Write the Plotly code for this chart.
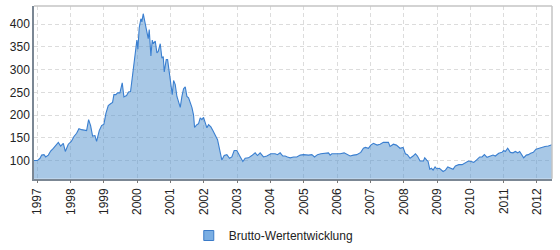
import plotly.graph_objects as go
import pandas as pd

# decimal-year positions and values
years = [
    1996.90, 1997.00, 1997.08, 1997.13, 1997.20, 1997.25, 1997.33, 1997.40, 1997.48, 1997.58,
    1997.63, 1997.70, 1997.78, 1997.84, 1997.93, 1998.02, 1998.10, 1998.18, 1998.25, 1998.33,
    1998.43, 1998.48, 1998.54, 1998.60, 1998.66, 1998.73, 1998.78, 1998.86, 1998.93, 1999.00,
    1999.06, 1999.13, 1999.20, 1999.26, 1999.30, 1999.36, 1999.41, 1999.48, 1999.55, 1999.60,
    1999.68, 1999.74, 1999.80, 1999.88, 1999.93, 1999.99, 2000.02, 2000.06, 2000.11, 2000.14,
    2000.18, 2000.24, 2000.29, 2000.33, 2000.36, 2000.41, 2000.45, 2000.48, 2000.54, 2000.59,
    2000.63, 2000.69, 2000.74, 2000.78, 2000.81, 2000.87, 2000.91, 2000.97, 2001.01, 2001.05,
    2001.09, 2001.14, 2001.19, 2001.24, 2001.29, 2001.34, 2001.39, 2001.44, 2001.49, 2001.54,
    2001.59, 2001.64, 2001.69, 2001.72, 2001.79, 2001.84, 2001.89, 2001.94, 2001.99, 2002.04,
    2002.09, 2002.14, 2002.21, 2002.27, 2002.34, 2002.41, 2002.47, 2002.54, 2002.61, 2002.69,
    2002.77, 2002.84, 2002.91, 2002.99, 2003.07, 2003.17, 2003.24, 2003.34, 2003.44, 2003.54,
    2003.61, 2003.69, 2003.79, 2003.89, 2004.01, 2004.14, 2004.21, 2004.29, 2004.37, 2004.44,
    2004.51, 2004.59, 2004.69, 2004.79, 2004.89, 2004.99, 2005.14, 2005.24, 2005.32, 2005.41,
    2005.51, 2005.64, 2005.74, 2005.79, 2005.84, 2005.94, 2006.00, 2006.09, 2006.21, 2006.31,
    2006.39, 2006.49, 2006.59, 2006.71, 2006.79, 2006.85, 2006.94, 2007.01, 2007.09, 2007.20,
    2007.29, 2007.39, 2007.54, 2007.59, 2007.69, 2007.78, 2007.84, 2007.89, 2007.98, 2008.05,
    2008.11, 2008.19, 2008.28, 2008.35, 2008.41, 2008.49, 2008.59, 2008.63, 2008.69, 2008.73,
    2008.78, 2008.83, 2008.88, 2008.94, 2008.99, 2009.07, 2009.18, 2009.25, 2009.32, 2009.40,
    2009.48, 2009.55, 2009.65, 2009.75, 2009.85, 2009.94, 2010.02, 2010.10, 2010.18, 2010.28,
    2010.35, 2010.42, 2010.50, 2010.60, 2010.68, 2010.75, 2010.85, 2010.95, 2011.00, 2011.05,
    2011.12, 2011.20, 2011.28, 2011.35, 2011.42, 2011.48, 2011.55, 2011.60, 2011.68, 2011.74,
    2011.81, 2011.89, 2011.97, 2012.04, 2012.14, 2012.24, 2012.34, 2012.45,
]
values = [
    100, 100, 105, 112, 113, 108, 112, 121, 127, 136,
    140, 132, 138, 120, 136, 142, 153, 160, 170, 168,
    166, 166, 190, 177, 154, 155, 142, 166, 177, 180,
    204, 221, 225, 228, 245, 245, 249, 249, 271, 240,
    243, 251, 252, 300, 334, 365, 345, 392, 412, 405,
    423, 399, 388, 368, 388, 330, 365, 357, 363, 337,
    340, 357, 325, 329, 295, 322, 322, 286, 272, 245,
    276, 267, 241, 231, 217, 241, 258, 262, 241, 238,
    228, 217, 200, 173, 179, 181, 194, 190, 195, 183,
    172, 179, 174, 166, 156, 146, 125, 101, 111, 113,
    105, 108, 122, 122, 111, 98, 105, 106, 111, 117,
    111, 117, 108, 110, 115, 115, 113, 117, 110, 110,
    108, 106, 108, 108, 112, 113, 112, 113, 108, 113,
    115, 117, 117, 112, 115, 115, 115, 115, 117, 113,
    110, 112, 113, 118, 127, 129, 127, 134, 138, 134,
    136, 140, 140, 131, 136, 134, 131, 127, 129, 115,
    113, 105, 110, 115, 110, 99, 99, 106, 101, 98,
    81, 83, 79, 86, 82, 83, 76, 79, 86, 83,
    81, 88, 91, 91, 95, 99, 98, 96, 101, 108,
    108, 113, 107, 110, 112, 110, 116, 118, 122, 120,
    127, 118, 117, 120, 117, 120, 113, 106, 112, 113,
    116, 118, 125, 127, 129, 131, 132, 135,
]
year_ticks = list(range(1997, 2013))
y_ticks = [100, 150, 200, 250, 300, 350, 400]
series_name = "Brutto-Wertentwicklung"


def to_date(y):
    yr = int(y)
    start = pd.Timestamp(year=yr, month=1, day=1)
    end = pd.Timestamp(year=yr + 1, month=1, day=1)
    return start + (end - start) * (y - yr)


dates = [to_date(y) for y in years]
tick_dates = [pd.Timestamp(year=y, month=1, day=1) for y in year_ticks]

GRID = "#dcdcdc"

fig = go.Figure()
fig.add_trace(go.Scatter(
    x=dates, y=values, mode="lines", fill="tozeroy",
    line=dict(color="#3a7fd0", width=1.1),
    fillcolor="rgba(81,145,205,0.5)", showlegend=False, hoverinfo="skip",
))
fig.add_trace(go.Scatter(
    x=[None], y=[None], mode="markers", name=series_name,
    marker=dict(symbol="square", size=10, color="#7aaee3",
                line=dict(color="#3b7bc8", width=1)),
))

fig.update_layout(
    width=560, height=250,
    margin=dict(l=34, r=8, t=6, b=58),
    paper_bgcolor="white", plot_bgcolor="white",
    font=dict(family="Liberation Sans, Arial, sans-serif", size=12, color="#222"),
    showlegend=True,
    legend=dict(orientation="h", xref="container", yref="container",
                x=0.488, xanchor="center", y=0.0, yanchor="bottom",
                font=dict(size=12, color="#222"), itemwidth=30,
                bgcolor="rgba(0,0,0,0)"),
    xaxis=dict(
        type="date",
        range=[to_date(years[0]), to_date(years[-1])],
        tickvals=tick_dates, ticktext=[str(y) for y in year_ticks],
        tickangle=-90, ticks="outside", ticklen=3, tickcolor="#777",
        tickfont=dict(size=12),
        showgrid=True, gridcolor=GRID, griddash="4px,3px", gridwidth=1,
        showline=True, linecolor="#7b8794", linewidth=1.5,
        mirror=False, zeroline=False, fixedrange=True,
    ),
    yaxis=dict(
        range=[60, 440],
        tickvals=y_ticks, tickfont=dict(size=12),
        ticks="", showgrid=True, gridcolor=GRID, griddash="4px,3px", gridwidth=1,
        showline=True, linecolor="#7b8794", linewidth=1.5,
        zeroline=False, fixedrange=True,
    ),
    shapes=[
        dict(type="line", xref="paper", yref="paper", x0=0, x1=1, y0=1, y1=1,
             line=dict(color="#c4c4c4", width=1.5)),
        dict(type="line", xref="paper", yref="paper", x0=1, x1=1, y0=0, y1=1,
             line=dict(color="#c4c4c4", width=1.5)),
    ],
)

fig.write_html("out.html")
